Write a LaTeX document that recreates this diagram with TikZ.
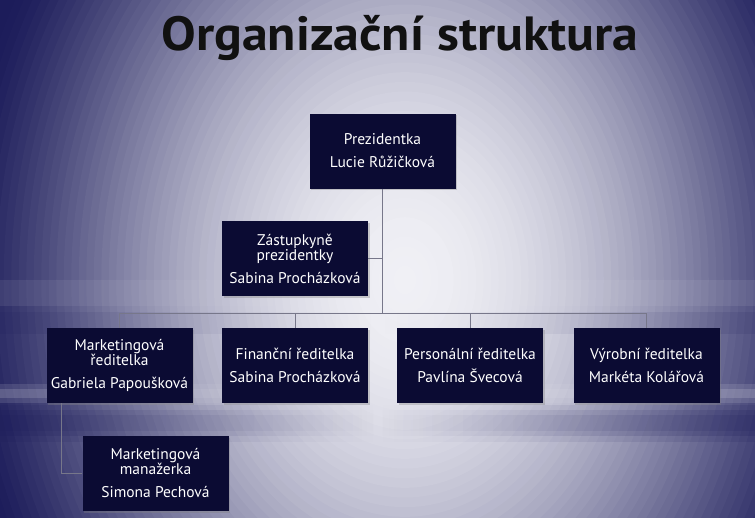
\documentclass[tikz,border=0pt]{standalone}
\usepackage{fontspec}
\setmainfont{PT Sans}
\usetikzlibrary{shadows,fadings,calc}
\definecolor{boxc}{HTML}{0B0B33}
\definecolor{linec}{HTML}{77778A}
\definecolor{navy}{HTML}{1C1C5A}
\definecolor{titlec}{HTML}{111111}
\definecolor{bgl}{HTML}{F0F0F5}
\tikzfading[name=sidesfade, left color=transparent!0, right color=transparent!0, middle color=transparent!100]
\begin{document}
\begin{tikzpicture}[x=1pt,y=-1pt,
  orgbox/.style={fill=boxc, text=white, minimum width=146pt, minimum height=75pt, inner sep=0pt, align=center,
    font=\fontsize{15.5}{15}\selectfont,
    drop shadow={opacity=0.35, shadow xshift=1.5pt, shadow yshift=-1.5pt}},
  conn/.style={draw=linec, line width=0.9pt}]
\useasboundingbox (0,0) rectangle (755,517);
\begin{scope}
  \clip (0,0) rectangle (755,517);
  \fill[navy] (0,0) rectangle (755,517);
  \foreach \k in {1,...,60}{
    \pgfmathsetmacro\s{1.0-(\k-0.5)/60}
    \pgfmathsetmacro\p{100*(1-\s*\s)^1.4}
    \fill[bgl!\p!navy] (405,280) ellipse [x radius=450*\s, y radius=580*\s];
  }
  % horizontal streaks
  \fill[white, opacity=0.08, path fading=sidesfade] (0,280) rectangle (755,306);
  \fill[navy, opacity=0.12, path fading=sidesfade] (0,312) rectangle (755,334);
  \fill[white, opacity=0.12, path fading=sidesfade] (0,384) rectangle (755,403);
  \fill[white, opacity=0.15, path fading=sidesfade] (0,389) rectangle (755,398);
  \fill[navy, opacity=0.15, path fading=sidesfade] (0,405) rectangle (755,442);
  \fill[navy, opacity=0.2, path fading=sidesfade] (0,410) rectangle (755,436);
  \fill[navy, opacity=0.15, path fading=sidesfade] (0,415) rectangle (755,431);
\end{scope}

\node[font=\fontsize{48}{50}\selectfont\bfseries, text=titlec, anchor=base] (title) at (400,50) {\scalebox{1.08}[1]{Organizační struktura}};

\node[orgbox] (pres) at (382.5,151) {Prezidentka\\[8pt]Lucie Růžičková};
\node[orgbox] (zast) at (295,258.5) {Zástupkyně\\prezidentky\\[8pt]Sabina Procházková};
\node[orgbox] (mark) at (119.5,365.5) {Marketingová\\ředitelka\\[8pt]Gabriela Papoušková};
\node[orgbox] (fin) at (295,365.5) {Finanční ředitelka\\[8pt]Sabina Procházková};
\node[orgbox] (pers) at (470,365.5) {Personální ředitelka\\[8pt]Pavlína Švecová};
\node[orgbox] (vyr) at (646.5,365.5) {Výrobní ředitelka\\[8pt]Markéta Kolářová};
\node[orgbox] (man) at (155.5,473.5) {Marketingová\\manažerka\\[8pt]Simona Pechová};

\coordinate (hub) at (382.5,313);
\coordinate (mkdrop) at ($(mark.south west)+(15,0)$);
\draw[conn] (pres.south) -- (hub);
\draw[conn] (zast.east) -- (zast.east -| hub);
\draw[conn] (hub) -| (mark.north);
\draw[conn] (hub) -| (fin.north);
\draw[conn] (hub) -| (pers.north);
\draw[conn] (hub) -| (vyr.north);
\draw[conn] (mkdrop) |- (man.west);
\end{tikzpicture}
\end{document}
